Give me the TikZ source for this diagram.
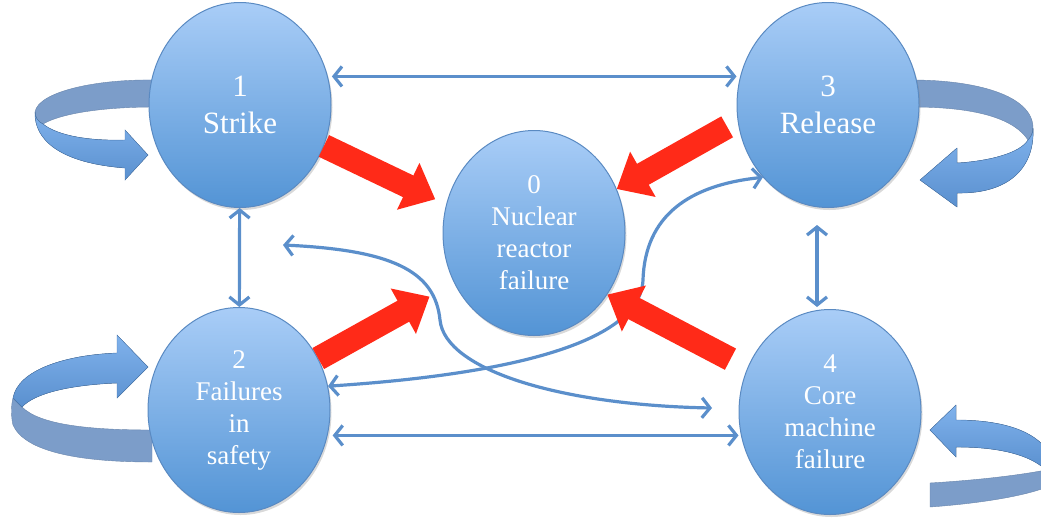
\documentclass[tikz,border=0pt]{standalone}
\usepackage{fontspec}
\setmainfont{Liberation Serif}
\usepackage{xcolor}
\usepackage{tikz}
\usetikzlibrary{shapes.geometric, arrows.meta, shadows}

\definecolor{nodetop}{HTML}{A9CDF7}
\definecolor{nodebot}{HTML}{5394D5}
\definecolor{nodeedge}{HTML}{5A8AC2}
\definecolor{linkblue}{HTML}{5B8FCB}
\definecolor{hotred}{HTML}{FF2A18}
\definecolor{bandback}{HTML}{7C9DC9}
\definecolor{bandtop}{HTML}{80B2EC}
\definecolor{bandbot}{HTML}{5A90CF}

\begin{document}
\begin{tikzpicture}[
    x=1pt, y=-1pt,
    state/.style={ellipse, draw=nodeedge, line width=1pt, top color=nodetop, bottom color=nodebot,
        minimum width=182pt, minimum height=205pt, inner sep=0pt, align=center, text=white,
        font=\fontsize{27}{32}\selectfont,
        drop shadow={opacity=0.3, shadow xshift=1.5pt, shadow yshift=-2.5pt}},
    bigtext/.style={font=\fontsize{31}{37}\selectfont},
    link/.style={linkblue, line width=3.2pt, {Straight Barb[length=8pt,width=20pt]}-{Straight Barb[length=8pt,width=20pt]}},
    push/.style={hotred, line width=24pt, -{Triangle[length=30pt,width=50pt]}},
    bandrear/.style={fill=bandback, draw=bandback!85!black, line width=0.4pt},
    bandfront/.style={top color=bandtop, bottom color=bandbot, draw=bandbot!85!black, line width=0.4pt}
]
\clip (0,0) rectangle (1041,523);

% self loops
\fill[bandrear] (155,80) .. controls (95,79) and (38,92) .. (35,112) .. controls (35,118) and (38,122) .. (43,124)
    .. controls (60,114) and (100,107) .. (155,107) -- cycle;
\fill[bandfront] (35,112) .. controls (34,140) and (60,163) .. (125,168) -- (125,180) -- (148,155) -- (125,130)
    -- (125,140) .. controls (90,141) and (58,136) .. (43,124) .. controls (38,122) and (35,117) .. (35,112) -- cycle;

\fill[bandrear] (912,80) .. controls (975,80) and (1033,95) .. (1033,128) .. controls (1033,133) and (1031,137) .. (1028,140)
    .. controls (1015,120) and (980,107) .. (912,107) -- cycle;
\fill[bandfront] (1033,128) .. controls (1035,165) and (1012,194) .. (957,193) -- (957,207) -- (920,180) -- (957,148)
    -- (957,163) .. controls (990,161) and (1020,153) .. (1028,140) .. controls (1031,137) and (1033,133) .. (1033,128) -- cycle;

\fill[bandrear] (13,398) -- (22,407) .. controls (40,425) and (90,430) .. (152,430) -- (152,462)
    .. controls (80,462) and (25,452) .. (13,425) .. controls (11,417) and (11,405) .. (13,398) -- cycle;
\fill[bandfront] (13,398) .. controls (18,370) and (65,355) .. (117,353) -- (117,335) -- (148,367) -- (117,398)
    -- (117,383) .. controls (70,385) and (35,393) .. (22,407) -- cycle;

\fill[bandrear] (1046,470) .. controls (1020,475) and (980,480) .. (930,483) -- (930,507)
    .. controls (985,503) and (1030,495) .. (1052,485) -- (1052,458) -- cycle;
\fill[bandfront] (956,420) .. controls (1005,420) and (1040,432) .. (1052,458) -- (1046,470)
    .. controls (1030,455) and (1000,447) .. (956,447) -- (956,457) -- (930,430) -- (956,405) -- cycle;

\node[state, bigtext] (strike) at (240,105) {1\\Strike};
\node[state, bigtext] (release) at (828,105) {3\\Release};
\node[state] (reactor) at (534,233) {0\\Nuclear\\reactor\\failure};
\node[state] (safety) at (239,410) {2\\Failures\\in\\safety};
\node[state] (core) at (830,412) {4\\Core\\machine\\failure};

\coordinate (lefttip) at (283,245);
\coordinate (righttip) at (712,408);

\draw[link, shorten <=4pt] (strike.18) -- (strike.18 -| release.west);
\draw[link] (strike) -- (safety);
\draw[link, shorten <=17pt, shorten >=2pt] ([xshift=-11pt]release.south) -- ([xshift=-13pt]core.north);
\draw[link, shorten <=5pt] (safety.-16) -- (safety.-16 -| core.west);
\draw[link] (safety.15) .. controls (500,375) and (640,345) .. (643,280)
    .. controls (645,215) and (690,185) .. (release.228);
\draw[link] (lefttip) .. controls (390,250) and (435,270) .. (440,320)
    .. controls (445,370) and (560,405) .. (righttip);

\draw[push, shorten >=12pt] (strike.-26) -- (reactor.162);
\draw[push, shorten <=12pt] (release.190) -- (reactor.28);
\draw[push, shorten >=28pt] (safety.33) -- (reactor.212);
\draw[push, shorten <=19pt] (core.152) -- (reactor.-40);
\end{tikzpicture}
\end{document}
